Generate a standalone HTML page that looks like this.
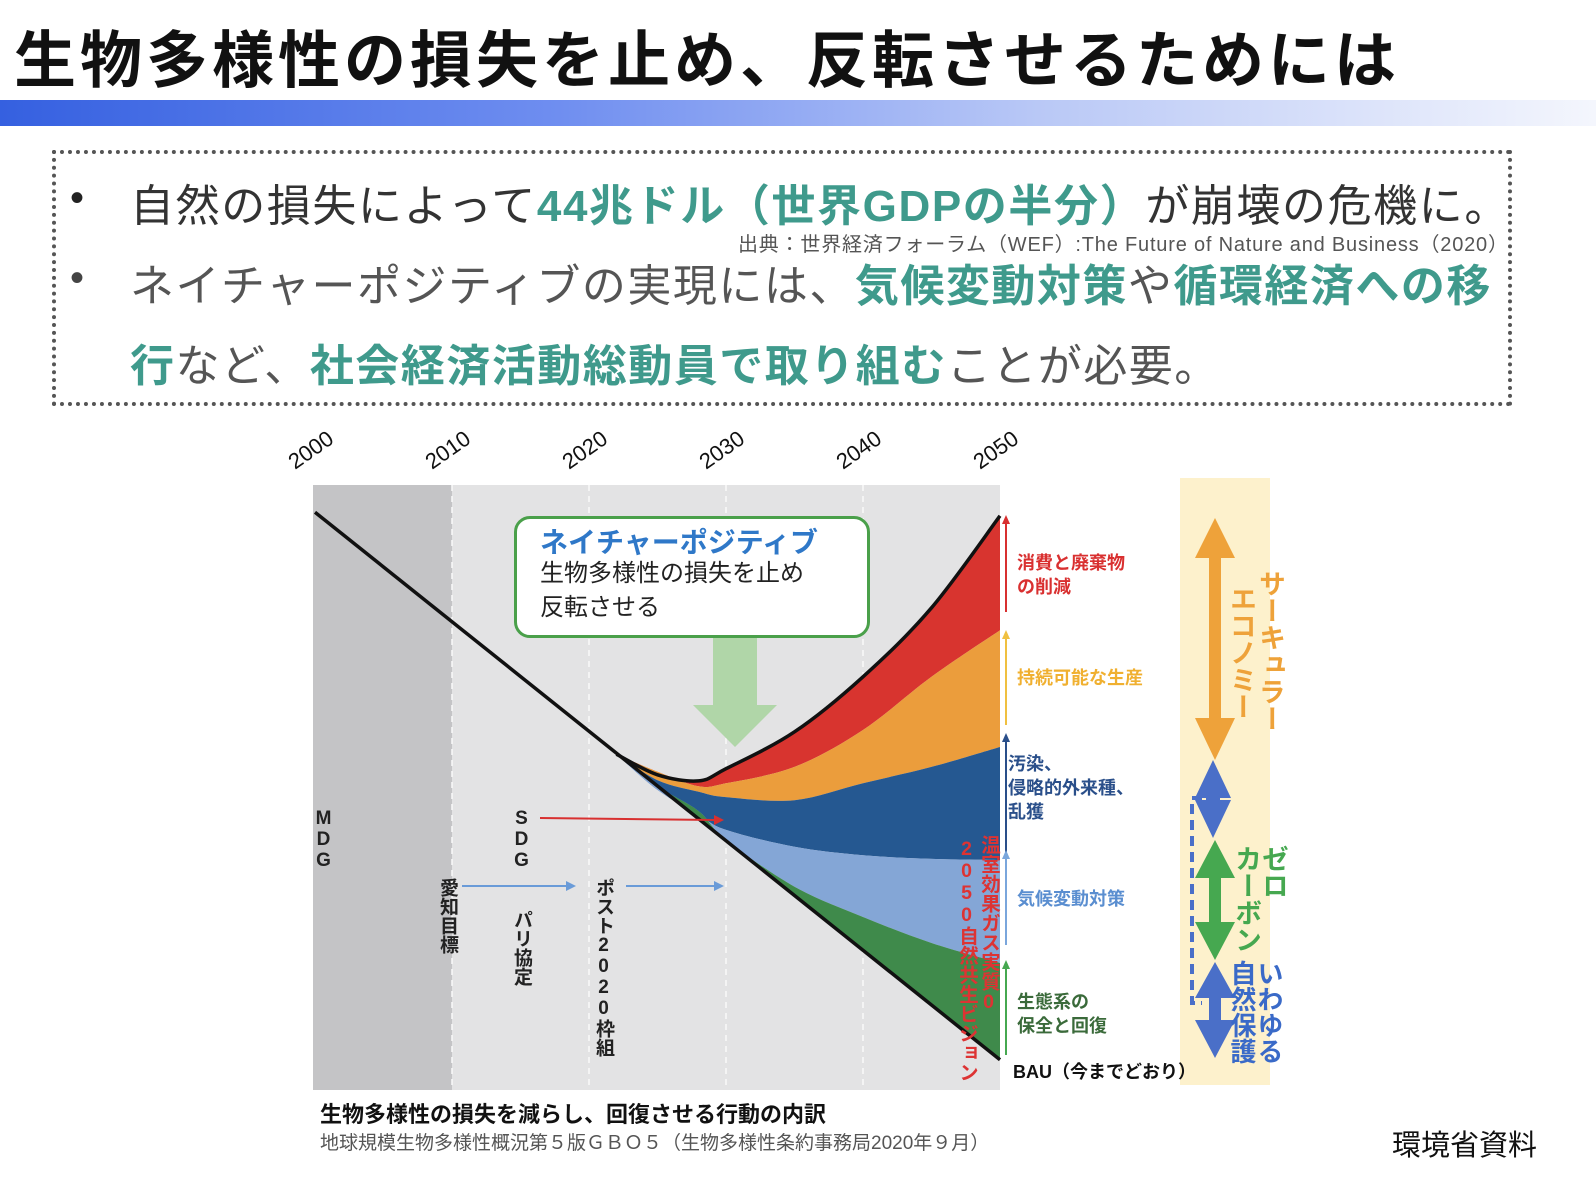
<!DOCTYPE html>
<html><head><meta charset="utf-8">
<style>
body{margin:0;width:1596px;height:1190px;background:#fff;position:relative;overflow:hidden;font-family:"Liberation Sans","Noto Sans CJK JP",sans-serif;}
.a{position:absolute;white-space:nowrap;}
.t{color:#3f9a8c;font-weight:bold;}
.v{writing-mode:vertical-rl;text-orientation:upright;position:absolute;white-space:nowrap;line-height:1;}
</style></head><body>
<div class="a" style="left:14px;top:10px;font-size:62px;font-weight:bold;color:#111;letter-spacing:4px;">生物多様性の損失を止め、反転させるためには</div>
<div class="a" style="left:0;top:100px;width:1596px;height:26px;background:linear-gradient(90deg,#3560e0 0%,#6f8ef0 35%,#b9c8f6 65%,#f4f6fd 100%);"></div>
<div class="a" style="left:52px;top:150px;width:1450px;height:248px;border:4px dotted #555;width:1452px;"></div>
<div class="a" style="left:70px;top:176px;font-size:40px;color:#222;">•</div>
<div class="a" style="left:130px;top:170px;font-size:44px;color:#333;letter-spacing:1.6px;">自然の損失によって<span class="t">44兆ドル（世界GDPの半分）</span>が崩壊の危機に。</div>
<div class="a" style="left:738px;top:228px;font-size:20px;color:#555;letter-spacing:0.8px;">出典：世界経済フォーラム（WEF）:The Future of Nature and Business（2020）</div>
<div class="a" style="left:70px;top:256px;font-size:40px;color:#444;">•</div>
<div class="a" style="left:130px;top:250px;font-size:44px;color:#555;letter-spacing:1.5px;">ネイチャーポジティブの実現には、<span class="t">気候変動対策</span>や<span class="t">循環経済への移</span></div>
<div class="a" style="left:130px;top:330px;font-size:44px;color:#555;letter-spacing:1.5px;"><span class="t">行</span>など、<span class="t">社会経済活動総動員で取り組む</span>ことが必要。</div>

<svg class="a" style="left:0;top:0" width="1596" height="1190">
<g id="chart"></g>
</svg>

<div class="a" style="left:514px;top:516px;width:350px;height:116px;border:3px solid #4aa04a;border-radius:16px;background:#fff;"></div>
<div class="a" style="left:540px;top:521px;font-size:28px;font-weight:bold;color:#2f78c8;">ネイチャーポジティブ</div>
<div class="a" style="left:540px;top:557px;font-size:24px;color:#222;line-height:34px;">生物多様性の損失を止め<br>反転させる</div>

<div class="v" style="left:314px;top:808px;font-size:19px;font-weight:bold;color:#222;">MDG</div>
<div class="v" style="left:512px;top:808px;font-size:19px;font-weight:bold;color:#222;">SDG</div>
<div class="v" style="left:438px;top:878px;font-size:19px;font-weight:bold;color:#222;">愛知目標</div>
<div class="v" style="left:512px;top:910px;font-size:19px;font-weight:bold;color:#222;">パリ協定</div>
<div class="v" style="left:594px;top:878px;font-size:19px;font-weight:bold;color:#222;">ポスト2020枠組</div>
<div class="v" style="left:978px;top:835px;font-size:19.5px;font-weight:bold;color:#d33;">温室効果ガス実質0</div>
<div class="v" style="left:956px;top:838px;font-size:19.5px;font-weight:bold;color:#d33;">2050自然共生ビジョン</div>

<div class="a" style="left:1017px;top:551px;font-size:18px;font-weight:bold;color:#d93030;line-height:24px;">消費と廃棄物<br>の削減</div>
<div class="a" style="left:1017px;top:664px;font-size:18px;font-weight:bold;color:#f0b030;">持続可能な生産</div>
<div class="a" style="left:1008px;top:752px;font-size:18px;font-weight:bold;color:#2a4f8a;line-height:24px;">汚染、<br>侵略的外来種、<br>乱獲</div>
<div class="a" style="left:1017px;top:885px;font-size:18px;font-weight:bold;color:#5a8ed0;">気候変動対策</div>
<div class="a" style="left:1017px;top:990px;font-size:18px;font-weight:bold;color:#3a6a3a;line-height:24px;">生態系の<br>保全と回復</div>

<div class="a" style="left:1180px;top:478px;width:90px;height:607px;background:#fdf1cc;"></div>
<div class="a" style="left:1013px;top:1058px;font-size:18px;font-weight:bold;color:#111;">BAU（今までどおり）</div>
<svg class="a" style="left:1180px;top:478px" width="110" height="610">
<polygon fill="#eea23a" points="35,40 15,80 29,80 29,240 15,240 35,282 55,240 41,240 41,80 55,80"/>
<polygon fill="#4a6fc8" points="33,282 15,320 26,320 26,322 15,322 33,360 51,322 40,322 40,320 51,320"/>
<polygon fill="#46a850" points="35,362 15,400 29,400 29,444 15,444 35,482 55,444 41,444 41,400 55,400"/>
<polygon fill="#4a6fc8" points="35,484 15,520 29,520 29,542 15,542 35,580 55,542 41,542 41,520 55,520"/>
<polyline points="22,320 12,320 12,525 22,525" fill="none" stroke="#4a6fc8" stroke-width="4" stroke-dasharray="10,6"/>
</svg>
<div class="v" style="left:1256px;top:570px;font-size:27px;font-weight:bold;color:#eea23a;">サーキュラー</div>
<div class="v" style="left:1227px;top:585px;font-size:27px;font-weight:bold;color:#eea23a;">エコノミー</div>
<div class="v" style="left:1259px;top:845px;font-size:27px;font-weight:bold;color:#46a850;">ゼロ</div>
<div class="v" style="left:1232px;top:845px;font-size:27px;font-weight:bold;color:#46a850;">カーボン</div>
<div class="v" style="left:1256px;top:960px;font-size:26px;font-weight:bold;color:#3a6ac8;">いわゆる</div>
<div class="v" style="left:1229px;top:960px;font-size:26px;font-weight:bold;color:#3a6ac8;">自然保護</div>

<div class="a" style="left:320px;top:1097px;font-size:22px;font-weight:bold;color:#111;">生物多様性の損失を減らし、回復させる行動の内訳</div>
<div class="a" style="left:320px;top:1128px;font-size:19px;color:#555;">地球規模生物多様性概況第５版ＧＢＯ５（生物多様性条約事務局2020年９月）</div>
<div class="a" style="left:1392px;top:1122px;font-size:29px;color:#111;">環境省資料</div>

<script>
const tickYears = [2000, 2010, 2020, 2030, 2040, 2050];
const years = [2022, 2025, 2028, 2030, 2035, 2040, 2045, 2050];
const topCurve = [55.5, 52.1, 51.1, 53.1, 59.2, 68.3, 79.7, 94.9];
const redOrange = [55.5, 52.6, 50.2, 50.7, 53.4, 59.5, 68.3, 76.0];
const orangeBlue = [55.5, 51.2, 49.3, 48.4, 47.9, 50.7, 53.4, 56.7];
const blueLight = [55.5, 49.6, 45.5, 43.0, 40.2, 38.8, 38.2, 38.0];
const lightGreen = [55.5, 50.2, 46.1, 41.3, 33.6, 28.6, 24.3, 21.0];
const bauYears = [2000, 2050];
const bauValues = [95.5, 5.0];

const NS = 'http://www.w3.org/2000/svg';
const g = document.getElementById('chart');
function xs(yr){ return 315 + (yr - 2000) * 13.7; }
function ys(v){ return 1090 - v * 6.05; }
function bau(yr){ return bauValues[0] + (bauValues[1]-bauValues[0])*(yr-bauYears[0])/(bauYears[1]-bauYears[0]); }
function mk(tag, attrs){ const e = document.createElementNS(NS, tag); for (const k in attrs) e.setAttribute(k, attrs[k]); g.appendChild(e); return e; }
function smooth(pts){
  let d = 'M' + pts[0][0] + ',' + pts[0][1];
  for (let i = 0; i < pts.length - 1; i++) {
    const p0 = pts[Math.max(i-1,0)], p1 = pts[i], p2 = pts[i+1], p3 = pts[Math.min(i+2,pts.length-1)];
    const c1x = p1[0] + (p2[0]-p0[0])/6, c1y = p1[1] + (p2[1]-p0[1])/6;
    const c2x = p2[0] - (p3[0]-p1[0])/6, c2y = p2[1] - (p3[1]-p1[1])/6;
    d += ' C' + c1x + ',' + c1y + ' ' + c2x + ',' + c2y + ' ' + p2[0] + ',' + p2[1];
  }
  return d;
}
function pts(arr){ return years.map((yr,i)=>[xs(yr), ys(arr[i])]); }

const bg1 = mk('rect', {x: xs(2000)-2, y: 485, width: xs(2010)-xs(2000)+2, height: 605, fill: '#c4c4c6'});


const bg2 = mk('rect', {x: xs(2010), y: 485, width: xs(2050)-xs(2010), height: 605, fill: '#e3e3e4'});


tickYears.forEach(yr => {
  if (yr > 2000 && yr < 2050) {
    const l = mk('line', {x1: xs(yr), x2: xs(yr), y1: 485, y2: 1090, stroke: '#fafafa', 'stroke-width': 1.5, 'stroke-dasharray': '6,5'});
    
    
  }
  const t = mk('text', {x: xs(yr)-20, y: 470, 'font-size': 22, fill: '#111', transform: 'rotate(-35 ' + (xs(yr)-20) + ' 470)', 'font-family': '"Liberation Sans", sans-serif'});
  t.textContent = yr;
  
  
});

const bounds = [topCurve, redOrange, orangeBlue, blueLight, lightGreen, years.map(bau)];
const colors = ['#d8342f', '#eb9d3c', '#255891', '#84a6d6', '#3f8a4b'];
const names = ['band-consumption', 'band-production', 'band-pollution', 'band-climate', 'band-ecosystem'];
for (let i = 0; i < 5; i++) {
  const up = pts(bounds[i]);
  const lo = pts(bounds[i+1]).reverse();
  let d = smooth(up);
  d += ' L' + lo[0][0] + ',' + lo[0][1] + smooth(lo).replace(/^M[^C]*/, ' ') + ' Z';
  const p = mk('path', {d: d, fill: colors[i]});
  
  
}
const bl = mk('line', {x1: xs(bauYears[0]), y1: ys(bauValues[0]), x2: xs(bauYears[1]), y2: ys(bauValues[1]), stroke: '#111', 'stroke-width': 3.5});


const tp = mk('path', {d: smooth(pts(topCurve)), fill: 'none', stroke: '#111', 'stroke-width': 3.5});



const ga = mk('polygon', {points: '713,637 757,637 757,705 777,705 735,747 693,705 713,705', fill: '#b0d6a8'});


function arrow(x1, y1, x2, y2, c, name){
  const l = mk('line', {x1: x1, y1: y1, x2: x2-8, y2: y2, stroke: c, 'stroke-width': 2});
  
  
  const h = mk('polygon', {points: (x2)+','+y2+' '+(x2-10)+','+(y2-5)+' '+(x2-10)+','+(y2+5), fill: c});
  
  
}
arrow(540, 818, 724, 820, '#d83030', 'sdg-arrow');
arrow(462, 886, 576, 886, '#6a9bd8', 'aichi-arrow');
arrow(626, 886, 724, 886, '#6a9bd8', 'post2020-arrow');
function up(x, y1, y2, c, name){
  const l = mk('line', {x1: x, y1: y2, x2: x, y2: y1+6, stroke: c, 'stroke-width': 2});
  
  
  const h = mk('polygon', {points: x+','+y1+' '+(x-4)+','+(y1+9)+' '+(x+4)+','+(y1+9), fill: c});
  
  
}
up(1006, 515, 612, '#d83030', 'consumption-arrow');
up(1006, 630, 725, '#f0c040', 'production-arrow');
up(1006, 733, 926, '#2a4f8a', 'pollution-arrow');
up(1006, 850, 945, '#7aa6dc', 'climate-arrow');
up(1006, 960, 1055, '#46a850', 'ecosystem-arrow');
</script>
</body></html>
